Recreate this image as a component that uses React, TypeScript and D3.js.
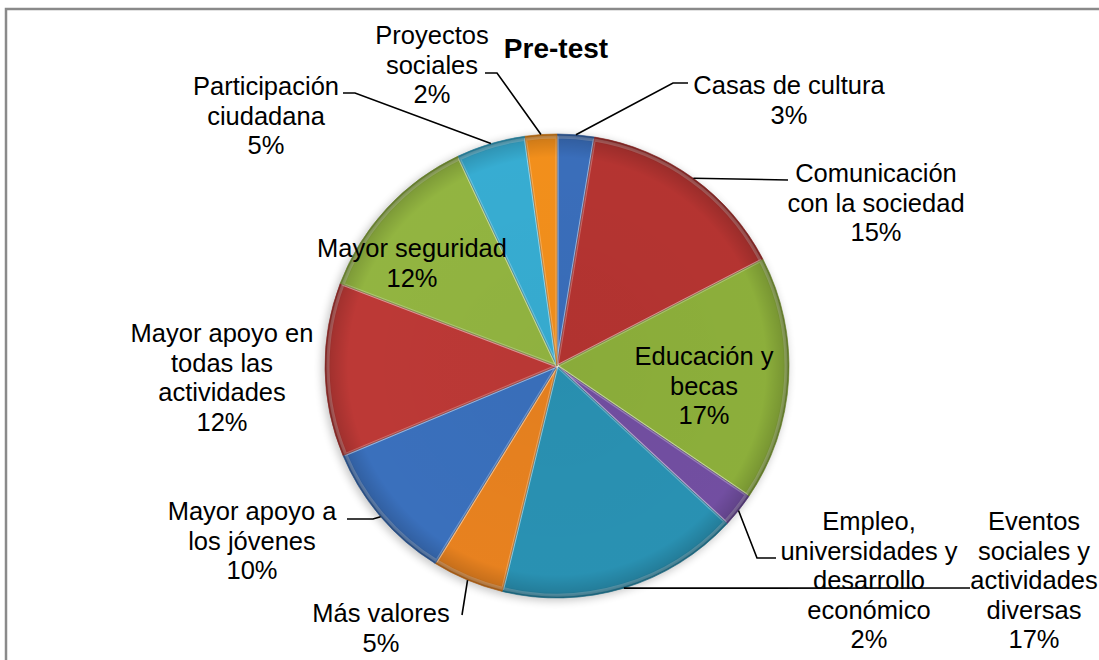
import React from "react";
import * as d3 from "d3";

const title = "Pre-test";
const categories = [
  "Casas de cultura",
  "Comunicación con la sociedad",
  "Educación y becas",
  "Empleo, universidades y desarrollo económico",
  "Eventos sociales y actividades diversas",
  "Más valores",
  "Mayor apoyo a los jóvenes",
  "Mayor apoyo en todas las actividades",
  "Mayor seguridad",
  "Participación ciudadana",
  "Proyectos sociales",
];
const values = [2.6, 14.8, 17.1, 2.4, 16.9, 5.0, 9.9, 12.1, 12.2, 4.8, 2.2];
const labelLines = [
  ["Casas de cultura"],
  ["Comunicación", "con la sociedad"],
  ["Educación y", "becas"],
  ["Empleo,", "universidades y", "desarrollo", "económico"],
  ["Eventos", "sociales y", "actividades", "diversas"],
  ["Más valores"],
  ["Mayor apoyo a", "los jóvenes"],
  ["Mayor apoyo en", "todas las", "actividades"],
  ["Mayor seguridad"],
  ["Participación", "ciudadana"],
  ["Proyectos", "sociales"],
];
const colors = [
  "#3b70be", "#b83532", "#8fb23c", "#7450a4", "#2a94b6", "#ec8420",
  "#3b72c0", "#c03a37", "#95b842", "#38b0d6", "#f7921c",
];

// label layout (positions only)
const layout: { x: number; y: number; pts: [number, number][] }[] = [
  { x: 789, y: 94, pts: [[673, 83], [688, 83]] },
  { x: 876, y: 182, pts: [[788, 180]] },
  { x: 704, y: 365, pts: [] },
  { x: 869, y: 530, pts: [[757, 558], [776, 558]] },
  { x: 1034, y: 530, pts: [[970, 588]] },
  { x: 381, y: 622, pts: [[462, 615]] },
  { x: 252, y: 520, pts: [[373, 519], [347, 519]] },
  { x: 222, y: 342, pts: [] },
  { x: 412, y: 257, pts: [] },
  { x: 266, y: 95, pts: [[355, 93], [343, 93]] },
  { x: 432, y: 44, pts: [[497, 73], [485, 73]] },
];

const W = 1099;
const H = 660;
const cx = 557;
const cy = 366;
const R = 232;
const LH = 29.6;
const FONT = "'Liberation Sans', Arial, sans-serif";

export default function App() {
  const total = d3.sum(values);
  const pie = d3.pie<number>().sort(null).startAngle(0).endAngle(2 * Math.PI);
  const arcs = pie(values);
  const arc = d3.arc<d3.PieArcDatum<number>>().innerRadius(0).outerRadius(R);
  const inner = d3.arc<d3.PieArcDatum<number>>().innerRadius(0).outerRadius(R - 3);
  const line = d3.line();

  return (
    <svg width={W} height={H} style={{ position: "absolute", left: 0, top: 0, background: "#fff" }}>
      <defs>
        <radialGradient id="shade" gradientUnits="userSpaceOnUse" cx={0} cy={0} r={R}>
          <stop offset="0" stopColor="#000" stopOpacity={0.04} />
          <stop offset="0.9" stopColor="#000" stopOpacity={0.02} />
          <stop offset="0.975" stopColor="#000" stopOpacity={0.15} />
          <stop offset="1" stopColor="#000" stopOpacity={0.35} />
        </radialGradient>
        <filter id="sh" x="-20%" y="-20%" width="140%" height="140%">
          <feGaussianBlur stdDeviation="4" />
        </filter>
      </defs>
      <rect x={6} y={9} width={1200} height={800} fill="#fff" stroke="#8a8a8a" strokeWidth={2.5} />
      <circle cx={cx - 2} cy={cy + 2} r={R + 1} fill="#000" opacity={0.22} filter="url(#sh)" />
      <g transform={`translate(${cx},${cy})`}>
        {arcs.map((a, i) => (
          <g key={categories[i]}>
            <path d={arc(a) || ""} fill={colors[i]} />
            <path
              d={inner(a) || ""}
              fill="none"
              stroke="#fff"
              strokeOpacity={0.28}
              strokeWidth={3}
              strokeLinejoin="round"
            />
            <path d={arc(a) || ""} fill="url(#shade)" />
            <path
              d={arc(a) || ""}
              fill="none"
              stroke={d3.color(colors[i])!.darker(1).formatHex()}
              strokeOpacity={0.6}
              strokeWidth={1}
            />
          </g>
        ))}
      </g>
      {arcs.map((a, i) => {
        const L = layout[i];
        if (!L.pts.length) return null;
        const mid = (a.startAngle + a.endAngle) / 2;
        const start: [number, number] = [cx + R * Math.sin(mid), cy - R * Math.cos(mid)];
        return (
          <path
            key={"l" + i}
            d={line([start, ...L.pts]) || ""}
            fill="none"
            stroke="#000"
            strokeWidth={1.6}
          />
        );
      })}
      {arcs.map((a, i) => {
        const L = layout[i];
        const lines = [...labelLines[i], `${Math.round((values[i] / total) * 100)}%`];
        return (
          <text
            key={"t" + i}
            x={L.x}
            y={L.y}
            textAnchor="middle"
            fontFamily={FONT}
            fontSize={25.5}
            fill="#000"
          >
            {lines.map((s, j) => (
              <tspan key={j} x={L.x} y={L.y + j * LH}>
                {s}
              </tspan>
            ))}
          </text>
        );
      })}
      <text x={556} y={58} textAnchor="middle" fontFamily={FONT} fontSize={28} fontWeight="bold">
        {title}
      </text>
    </svg>
  );
}
